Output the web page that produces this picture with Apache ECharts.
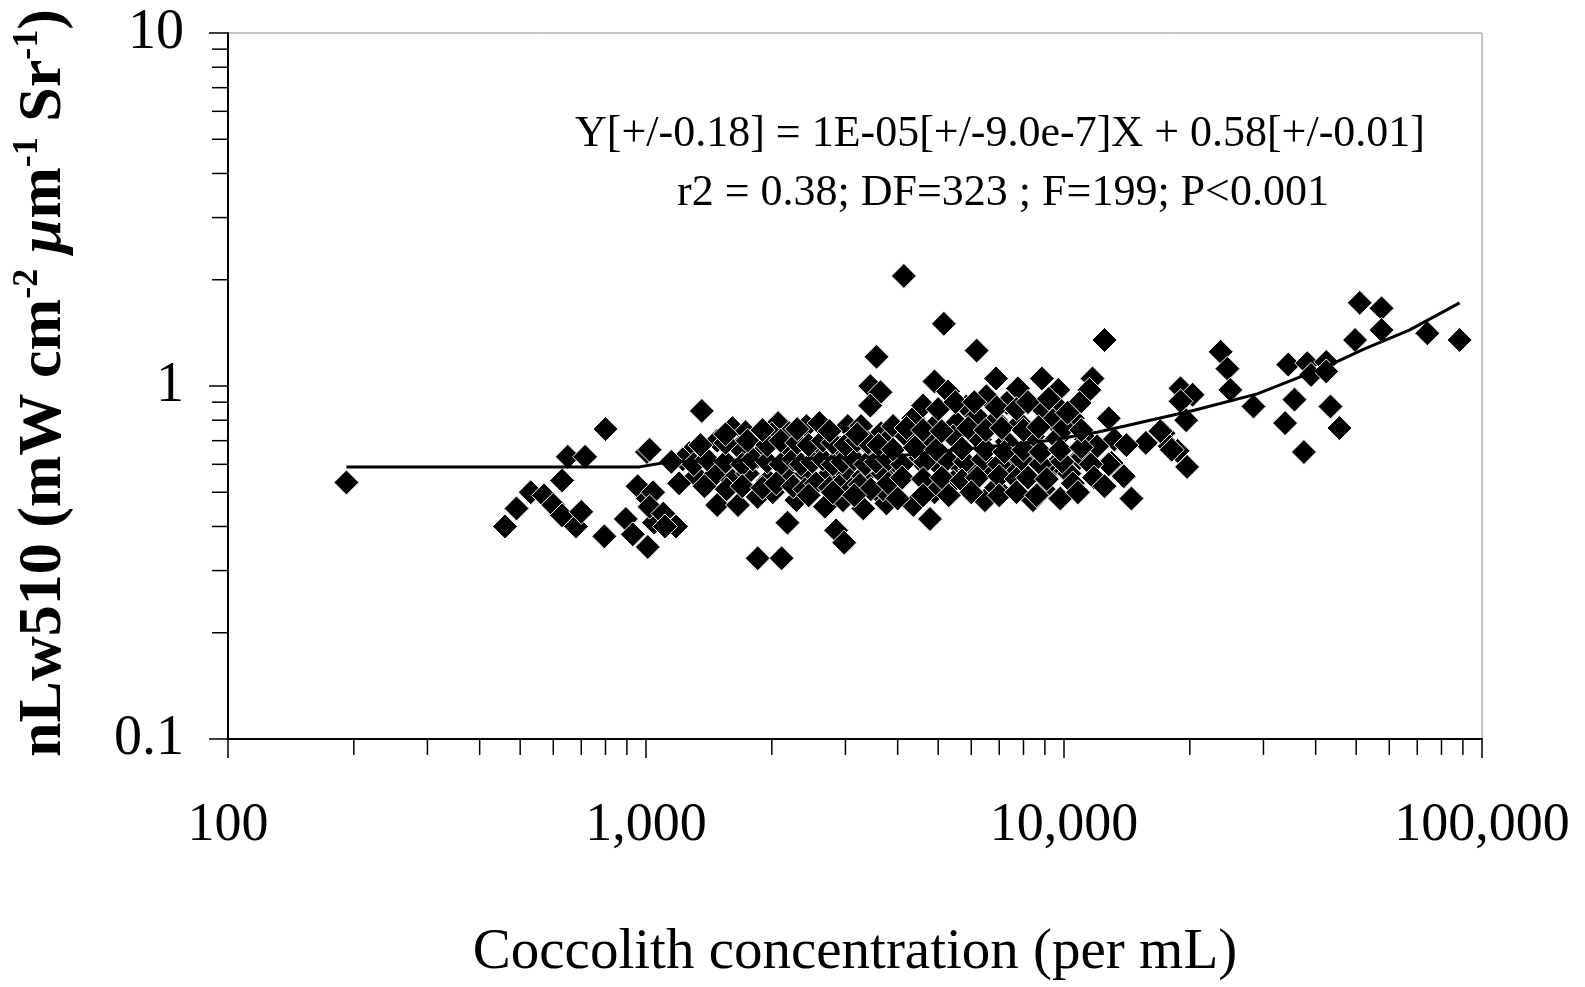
<!DOCTYPE html>
<html>
<head>
<meta charset="utf-8">
<script src="https://cdn.jsdelivr.net/npm/echarts@6/dist/echarts.min.js"></script>
<style>
html,body{margin:0;padding:0;background:#fff;}
#chart{width:1585px;height:987px;}
</style>
</head>
<body>
<div id="chart"></div>
<script>
// ---- Data ----
const coccolithX = [
  192, 800, 650, 715, 1005, 630, 530, 490, 460, 570, 600, 630, 680, 700, 795, 955, 1010, 895, 930, 1010, 1045,
  3560, 3440, 3640, 3440, 1360, 1020, 1610, 1730, 2070, 2000, 2200, 2420, 2600, 3040, 3270, 3650,
  1270, 1480, 1670, 1850, 2200, 2560, 2910, 3500,
  1320, 1470, 1610, 1750, 1960, 2170, 2420, 2710, 3010, 3310, 3680, 1225,
  1480, 1660, 1850, 2010, 2180, 2290, 2680, 2960, 3310, 3700, 2850, 2980, 1850, 2110, 1040, 1020, 1100, 1180, 1110,
  4140, 5160, 6180, 12500, 4900, 5280, 6880, 7760, 8850, 9690, 11700, 11500, 12800,
  3900, 4360, 4900, 5540, 5840, 6520, 7300, 6180, 6880, 7850, 8940, 9630, 10900, 9410, 10500,
  3730, 4200, 4780, 5430, 6290, 7300, 8430, 9630, 11300, 13200,
  3970, 4500, 5060, 5540, 5960, 6640, 7570, 8430, 9410, 10100, 10900, 13000,
  3760, 4360, 4780, 4900, 5430, 6470, 6880, 8430, 8940, 3690, 14500,
  23700, 24600, 25000, 28400, 19000, 20300, 19000, 15700, 17300, 17900, 18700, 19700, 13900, 12800, 12000, 14100, 10300, 11100, 19600, 17000, 18100,
  51000, 57500, 57500, 49700, 74000, 88400, 34400, 38200, 42400, 39000, 42400, 35600, 43400, 33800, 45600, 37500
];
const nLw510 = [
  0.533, 0.755, 0.63, 0.63, 0.65, 0.54, 0.50, 0.45, 0.40, 0.49, 0.46, 0.43, 0.40, 0.44, 0.375, 0.52, 0.48, 0.42, 0.38, 0.35, 0.41,
  1.21, 1.00, 0.96, 0.88, 0.85, 0.66, 0.76, 0.74, 0.785, 0.73, 0.735, 0.77, 0.785, 0.77, 0.77, 0.735,
  0.645, 0.70, 0.67, 0.63, 0.66, 0.67, 0.67, 0.66,
  0.555, 0.565, 0.54, 0.565, 0.54, 0.555, 0.565, 0.555, 0.565, 0.555, 0.565, 0.62,
  0.46, 0.46, 0.485, 0.50, 0.41, 0.475, 0.455, 0.475, 0.45, 0.485, 0.39, 0.36, 0.325, 0.325, 0.50, 0.455, 0.435, 0.40, 0.40,
  2.05, 1.50, 1.26, 1.35, 1.03, 0.965, 1.05, 0.985, 1.05, 0.975, 1.05, 0.975, 0.81,
  0.77, 0.81, 0.77, 0.785, 0.875, 0.935, 0.895, 0.82, 0.80, 0.785, 0.855, 0.875, 0.895, 0.80, 0.81,
  0.69, 0.72, 0.695, 0.72, 0.705, 0.695, 0.72, 0.71, 0.705, 0.705,
  0.605, 0.62, 0.59, 0.605, 0.58, 0.59, 0.59, 0.61, 0.59, 0.575, 0.625, 0.605,
  0.465, 0.46, 0.42, 0.50, 0.535, 0.475, 0.515, 0.475, 0.51, 0.51, 0.48,
  1.25, 1.12, 0.975, 0.875, 0.985, 0.945, 0.905, 0.69, 0.735, 0.675, 0.655, 0.59, 0.555, 0.60, 0.675, 0.68, 0.565, 0.63, 0.80, 0.745, 0.66,
  1.72, 1.66, 1.44, 1.35, 1.41, 1.35, 1.15, 1.16, 1.17, 1.075, 1.10, 0.915, 0.875, 0.785, 0.76, 0.65
];
// points hidden inside the dense overlapping band (estimated)
const coccolithXDense = [
  1150, 1300, 1400, 1550, 1700, 1800, 1950, 2100, 2250, 2350, 2500, 2650, 2800, 2950, 3150, 3350, 3550, 3800, 4100, 4650, 5250, 5800, 6400, 7000, 7900, 8800, 9900, 11600,
  1350, 1550, 1750, 1950, 2100, 2300, 2450, 2650, 2800, 3000, 3200, 3400, 3600, 3900, 4400, 4950, 5700, 6500, 7200, 8000, 8800, 9800, 11000,
  1200, 1380, 1560, 1700, 1900, 2050, 2250, 2400, 2550, 2750, 2900, 3100, 3250, 3450, 3800, 4100, 4600, 5100, 5700, 6200, 7000, 7700, 8200, 9100, 10500, 11800,
  1550, 1900, 2300, 2750, 3200, 4200, 4600, 5100, 5900, 6500, 7100, 8000, 8700, 10000, 11000,
  4600, 5000, 5500, 6100, 6900, 7700, 8200, 9200, 10200,
  2450, 2800, 3150, 4000, 4600, 5300, 6000, 7000, 7700, 8600, 9800, 10800, 12500
];
const nLw510Dense = [
  0.61, 0.60, 0.62, 0.61, 0.60, 0.62, 0.61, 0.60, 0.62, 0.60, 0.61, 0.62, 0.60, 0.61, 0.62, 0.60, 0.61, 0.62, 0.60, 0.61, 0.62, 0.61, 0.62, 0.60, 0.62, 0.60, 0.61, 0.60,
  0.68, 0.69, 0.70, 0.68, 0.70, 0.69, 0.68, 0.70, 0.69, 0.68, 0.70, 0.69, 0.68, 0.66, 0.67, 0.66, 0.665, 0.66, 0.65, 0.66, 0.65, 0.66, 0.67,
  0.53, 0.52, 0.51, 0.52, 0.515, 0.53, 0.52, 0.51, 0.53, 0.515, 0.52, 0.51, 0.525, 0.51, 0.53, 0.55, 0.545, 0.55, 0.54, 0.55, 0.555, 0.545, 0.55, 0.545, 0.53, 0.55,
  0.73, 0.75, 0.755, 0.745, 0.73, 0.76, 0.75, 0.745, 0.76, 0.75, 0.76, 0.75, 0.765, 0.76, 0.75,
  0.88, 0.86, 0.90, 0.90, 0.87, 0.86, 0.90, 0.92, 0.84,
  0.49, 0.50, 0.49, 0.48, 0.49, 0.49, 0.50, 0.49, 0.50, 0.49, 0.48, 0.50, 0.52
];
// regression line as drawn
const trendX = [192, 965, 1140, 3800, 9100, 12000, 14000, 20600, 29000, 42400, 52000, 67000, 88400];
const trendY = [0.59, 0.59, 0.61, 0.63, 0.70, 0.74, 0.77, 0.855, 0.95, 1.135, 1.27, 1.44, 1.72];

// axes
const xTickValues = [100, 1000, 10000, 100000];
const xTickLabels = ['100', '1,000', '10,000', '100,000'];
const yTickValues = [0.1, 1, 10];
const yTickLabels = ['0.1', '1', '10'];
const xMinorTicks = [200, 300, 400, 500, 600, 700, 800, 900, 2000, 3000, 4000, 5000, 6000, 7000, 8000, 9000, 20000, 30000, 40000, 50000, 60000, 70000, 80000, 90000];
const yMinorTicks = [0.2, 0.3, 0.4, 0.5, 0.6, 0.7, 0.8, 0.9, 2, 3, 4, 5, 6, 7, 8, 9];

const xTitle = 'Coccolith concentration (per mL)';
const eqLine1 = 'Y[+/-0.18] = 1E-05[+/-9.0e-7]X + 0.58[+/-0.01]';
const eqLine2 = 'r2 = 0.38; DF=323 ; F=199; P<0.001';

// ---- build ----
const FONT = "'Liberation Serif', 'Times New Roman', serif";
const scatterData = coccolithX.map((x, i) => [x, nLw510[i]])
  .concat(coccolithXDense.map((x, i) => [x, nLw510Dense[i]]));
const trendData = trendX.map((x, i) => [x, trendY[i]]);
function lookup(vals, labels, v) {
  const i = vals.findIndex(t => Math.abs(Math.log10(t) - Math.log10(v)) < 1e-6);
  return i >= 0 ? labels[i] : '';
}
const X_MIN = xTickValues[0], X_MAX = xTickValues[xTickValues.length - 1];
const Y_MIN = yTickValues[0], Y_MAX = yTickValues[yTickValues.length - 1];
const MINOR_LEN = 16;

const chart = echarts.init(document.getElementById('chart'), null, {renderer: 'canvas'});
chart.setOption({
  animation: false,
  backgroundColor: '#fff',
  grid: {left: 228, right: 103, top: 33, bottom: 248, show: true, borderColor: '#8a8a8a', borderWidth: 1, backgroundColor: 'transparent'},
  xAxis: {
    type: 'log', logBase: 10, min: X_MIN, max: X_MAX, interval: 1,
    axisLine: {show: true, lineStyle: {color: '#000', width: 2}},
    axisTick: {show: true, inside: false, length: 19, lineStyle: {color: '#000', width: 1.5}},
    axisLabel: {margin: 60, fontSize: 54, fontFamily: FONT, color: '#000',
      formatter: v => lookup(xTickValues, xTickLabels, v)},
    splitLine: {show: false},
    name: xTitle, nameLocation: 'middle', nameGap: 186,
    nameTextStyle: {fontSize: 57, fontFamily: FONT, color: '#000'}
  },
  yAxis: {
    type: 'log', logBase: 10, min: Y_MIN, max: Y_MAX, interval: 1,
    axisLine: {show: true, lineStyle: {color: '#000', width: 2}},
    axisTick: {show: true, inside: false, length: 19, lineStyle: {color: '#000', width: 1.5}},
    axisLabel: {margin: 44, fontSize: 56, fontFamily: FONT, color: '#000',
      formatter: v => lookup(yTickValues, yTickLabels, v)},
    splitLine: {show: false}
  },
  graphic: [
    {type: 'text', x: 44, y: 383, rotation: Math.PI / 2, z: 100,
      style: {
        text: '{b|nLw510 (mW cm}{sup|-2}{b| }{mu|μ}{b|m}{sup|-1}{b| Sr}{sup|-1}{b|)}',
        align: 'center', verticalAlign: 'middle', fill: '#000',
        rich: {
          b: {fontSize: 62, fontWeight: 'bold', fontFamily: FONT, lineHeight: 68, fill: '#000'},
          mu: {fontSize: 62, fontWeight: 'bold', fontStyle: 'italic', fontFamily: FONT, lineHeight: 68, fill: '#000'},
          sup: {fontSize: 36, fontWeight: 'bold', fontFamily: FONT, lineHeight: 36, verticalAlign: 'top', fill: '#000'}
        }
      }},
    {type: 'text', x: 1000, y: 134, z: 100,
      style: {text: eqLine1, fontSize: 44, fontFamily: FONT, fill: '#000', align: 'center', verticalAlign: 'middle'}},
    {type: 'text', x: 1003, y: 193, z: 100,
      style: {text: eqLine2, fontSize: 44, fontFamily: FONT, fill: '#000', align: 'center', verticalAlign: 'middle'}}
  ],
  series: [
    {
      type: 'scatter', data: scatterData, symbol: 'diamond', symbolSize: 25,
      itemStyle: {color: '#000', borderColor: '#fff', borderWidth: 1, opacity: 1},
      z: 2, silent: true
    },
    {
      type: 'line', data: trendData, showSymbol: false, symbol: 'none', smooth: false,
      lineStyle: {color: '#000', width: 3}, z: 3, silent: true
    },
    {
      type: 'custom', clip: false, silent: true, z: 4,
      data: xMinorTicks.map(v => [v, Y_MIN]),
      renderItem: (params, api) => {
        const p = api.coord([api.value(0), api.value(1)]);
        return {type: 'line', shape: {x1: p[0], y1: p[1], x2: p[0], y2: p[1] + MINOR_LEN},
          style: {stroke: '#000', lineWidth: 1.5}};
      }
    },
    {
      type: 'custom', clip: false, silent: true, z: 4,
      data: yMinorTicks.map(v => [X_MIN, v]),
      renderItem: (params, api) => {
        const p = api.coord([api.value(0), api.value(1)]);
        return {type: 'line', shape: {x1: p[0], y1: p[1], x2: p[0] - MINOR_LEN, y2: p[1]},
          style: {stroke: '#000', lineWidth: 1.5}};
      }
    }
  ]
});
</script>
</body>
</html>
